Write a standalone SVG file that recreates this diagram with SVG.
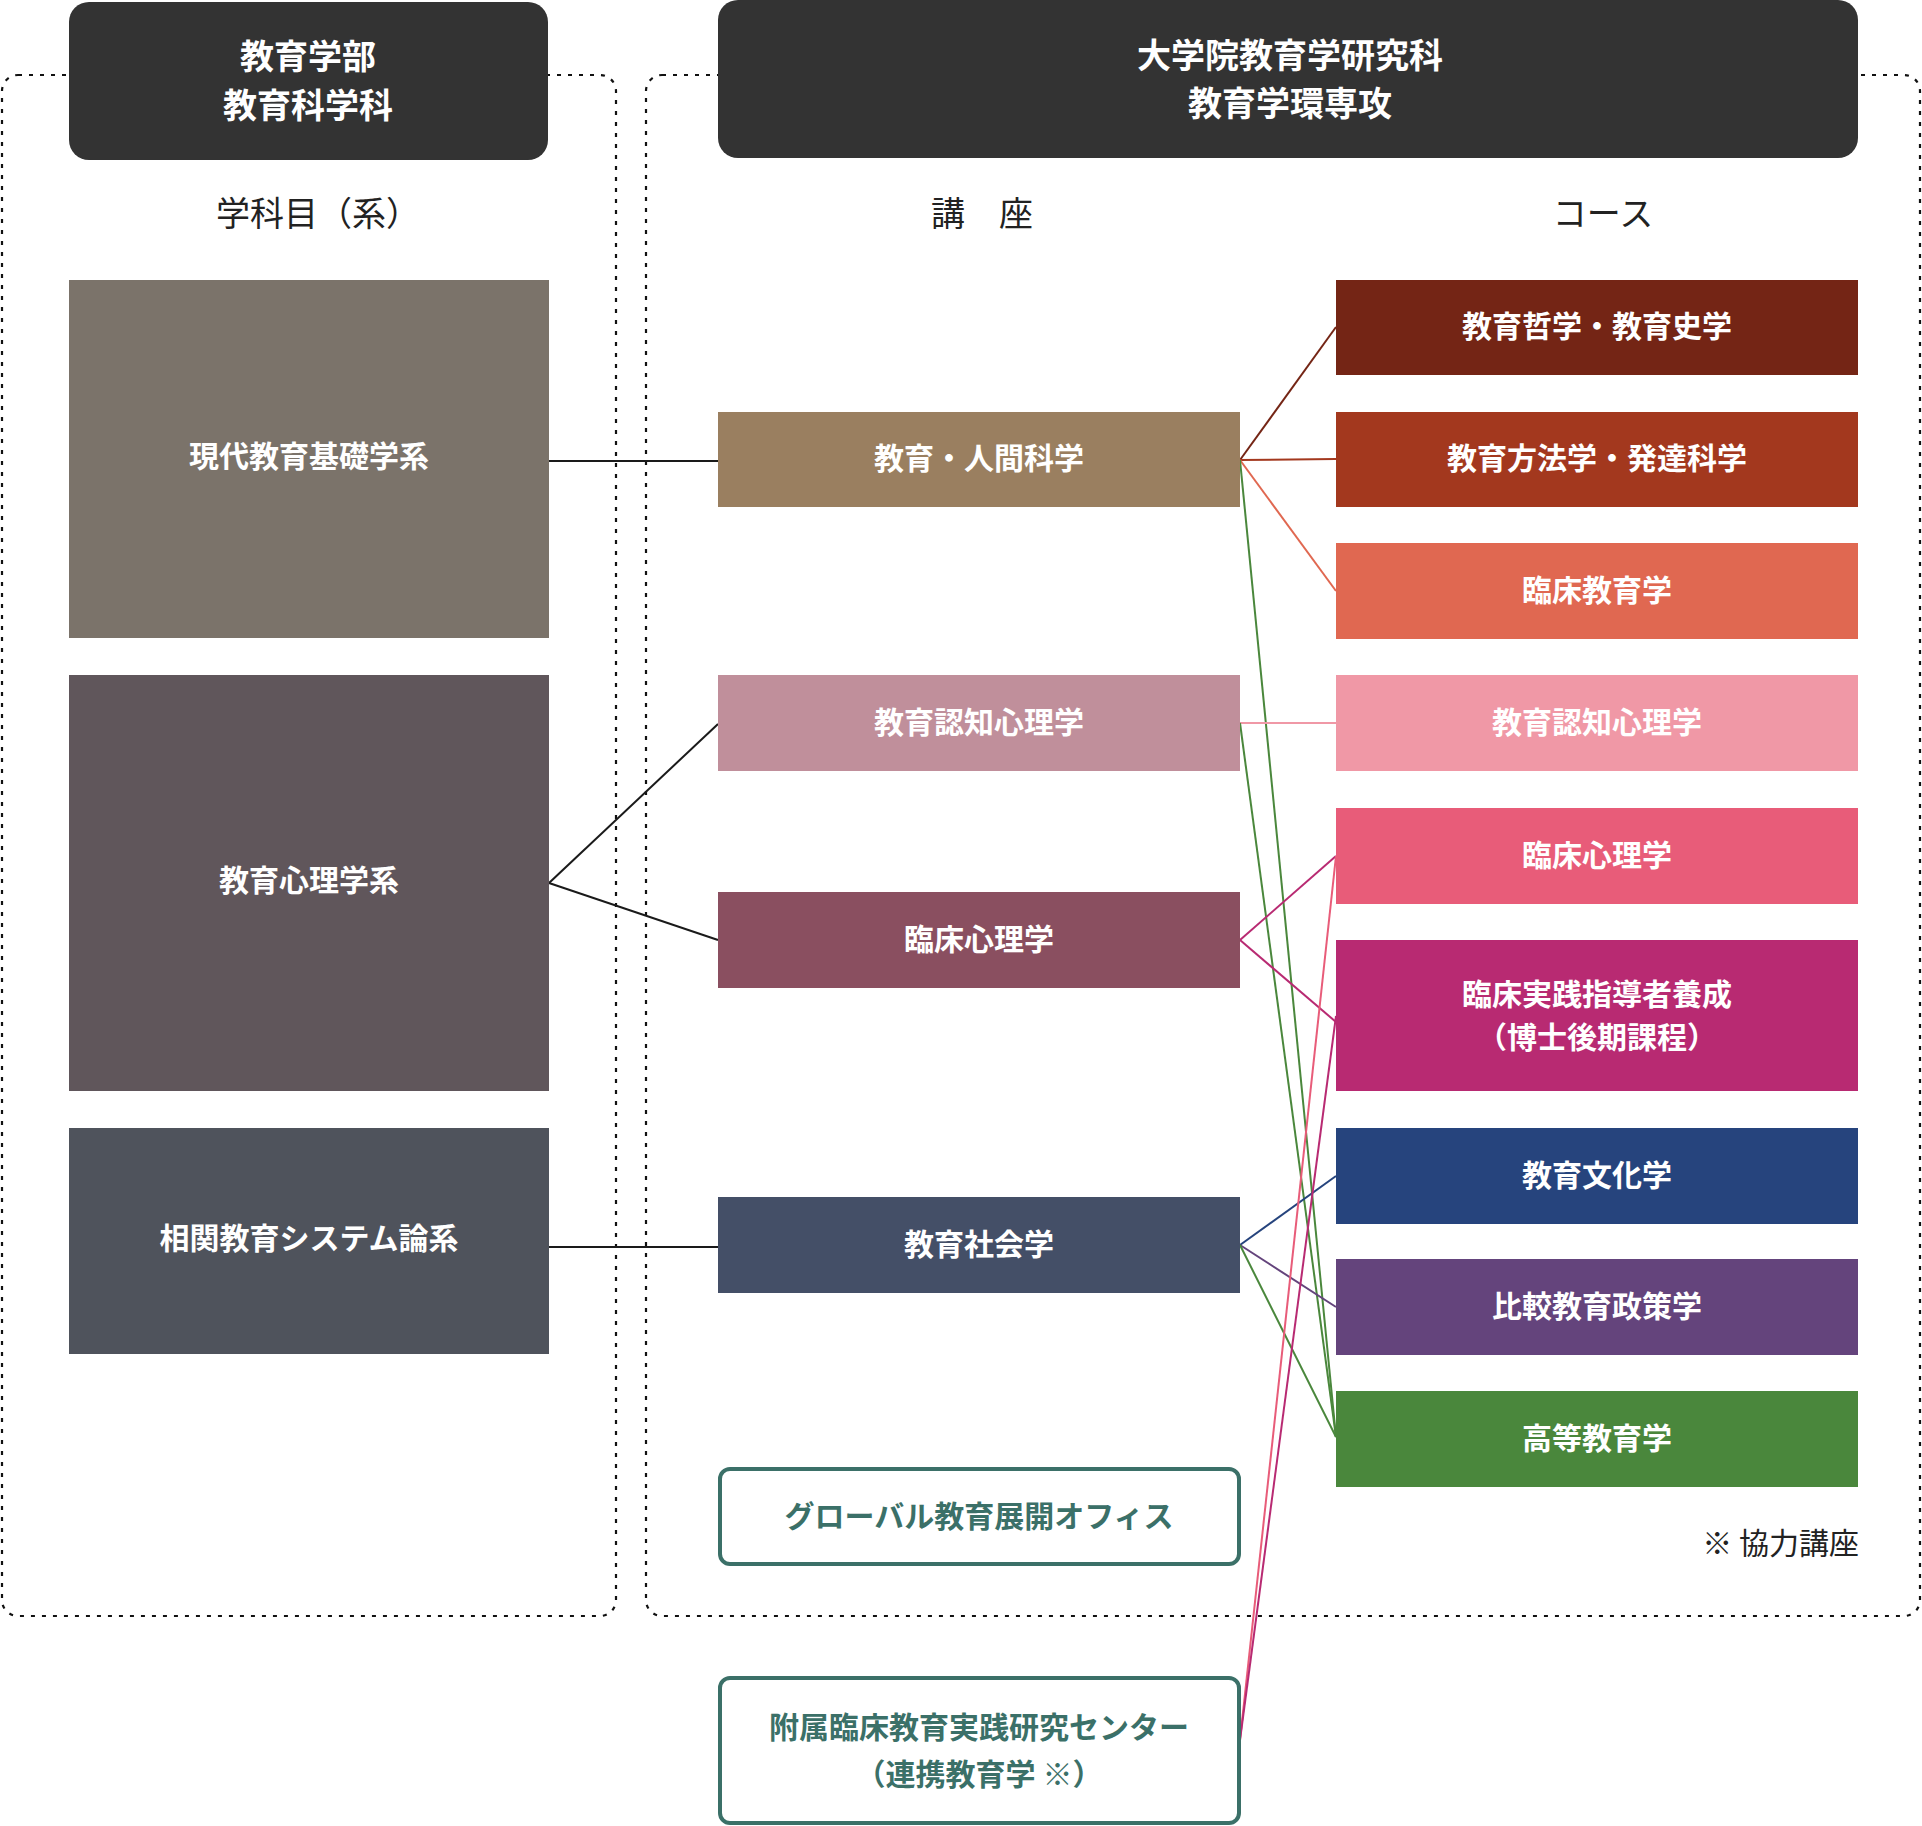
<svg xmlns="http://www.w3.org/2000/svg" width="1922" height="1826" viewBox="0 0 1922 1826">
<style>
text{font-family:"Noto Sans CJK JP","Noto Sans CJK SC",sans-serif;text-anchor:middle;dominant-baseline:central}
.hd{fill:#333333}
.ht{fill:#ffffff;font-size:34px;font-weight:bold}
.sub{fill:#222222;font-size:34px;font-weight:normal}
.nt{fill:#ffffff;font-size:30px;font-weight:bold}
.tt{fill:#3b7068;font-size:30px;font-weight:bold}
.ob{fill:#ffffff;stroke:#3b7068;stroke-width:4}
.box{fill:none;stroke:#111111;stroke-width:2.2;stroke-dasharray:4 7}
.c{fill:none;stroke-width:2}
</style>
<rect width="1922" height="1826" fill="#ffffff"/>
<g id="containers">
<rect class="box" x="2" y="75" width="614" height="1541" rx="16"/>
<rect class="box" x="646" y="75" width="1274" height="1541" rx="16"/>
</g>
<g id="connectors">
<line class="c" stroke="#1a1a1a" x1="549" y1="461" x2="718" y2="461"/>
<line class="c" stroke="#1a1a1a" x1="549" y1="883" x2="718" y2="724"/>
<line class="c" stroke="#1a1a1a" x1="549" y1="883" x2="718" y2="940"/>
<line class="c" stroke="#1a1a1a" x1="549" y1="1247" x2="718" y2="1247"/>
<line class="c" stroke="#742515" x1="1240" y1="460" x2="1336" y2="327"/>
<line class="c" stroke="#a3381e" x1="1240" y1="460" x2="1336" y2="459"/>
<line class="c" stroke="#e06851" x1="1240" y1="460" x2="1336" y2="591"/>
<line class="c" stroke="#4a873c" x1="1240" y1="460" x2="1336" y2="1437"/>
<line class="c" stroke="#f098a6" x1="1240" y1="723" x2="1336" y2="723"/>
<line class="c" stroke="#4a873c" x1="1240" y1="723" x2="1336" y2="1437"/>
<line class="c" stroke="#b82a72" x1="1240" y1="940" x2="1336" y2="856"/>
<line class="c" stroke="#b82a72" x1="1240" y1="940" x2="1336" y2="1022"/>
<line class="c" stroke="#26447d" x1="1240" y1="1245" x2="1336" y2="1176"/>
<line class="c" stroke="#64447c" x1="1240" y1="1245" x2="1336" y2="1307"/>
<line class="c" stroke="#4a873c" x1="1240" y1="1245" x2="1336" y2="1437"/>
<line class="c" stroke="#e85c79" x1="1240" y1="1740" x2="1336" y2="856"/>
<line class="c" stroke="#b82a72" x1="1240" y1="1740" x2="1336" y2="1016"/>
</g>
<g id="header-faculty">
<rect class="hd" x="69" y="2" width="479" height="158" rx="20"/>
<text class="ht" x="308" y="54">教育学部</text>
<text class="ht" x="308" y="103">教育科学科</text>
</g>
<g id="header-graduate">
<rect class="hd" x="718" y="0" width="1140" height="158" rx="20"/>
<text class="ht" x="1290" y="53">大学院教育学研究科</text>
<text class="ht" x="1290" y="101">教育学環専攻</text>
</g>
<g id="labels">
<text class="sub" x="318" y="211">学科目（系）</text>
<text class="sub" x="982" y="211">講　座</text>
<text class="sub" x="1603" y="211">コース</text>
<text style="fill:#222222;font-size:30px;text-anchor:end" x="1859" y="1541">※ 協力講座</text>
</g>
<g id="dept-gendai">
<rect x="69" y="280" width="480" height="358" fill="#7b736a"/>
<text class="nt" x="309" y="454">現代教育基礎学系</text>
</g>
<g id="dept-shinri">
<rect x="69" y="675" width="480" height="416" fill="#60565b"/>
<text class="nt" x="309" y="878">教育心理学系</text>
</g>
<g id="dept-soukan">
<rect x="69" y="1128" width="480" height="226" fill="#4f535c"/>
<text class="nt" x="309" y="1236">相関教育システム論系</text>
</g>
<g id="koza-ningen">
<rect x="718" y="412" width="522" height="95" fill="#9a7f60"/>
<text class="nt" x="979" y="456">教育・人間科学</text>
</g>
<g id="koza-ninchi">
<rect x="718" y="675" width="522" height="96" fill="#c08f9b"/>
<text class="nt" x="979" y="720">教育認知心理学</text>
</g>
<g id="koza-rinsho">
<rect x="718" y="892" width="522" height="96" fill="#8a4f60"/>
<text class="nt" x="979" y="937">臨床心理学</text>
</g>
<g id="koza-shakai">
<rect x="718" y="1197" width="522" height="96" fill="#444f67"/>
<text class="nt" x="979" y="1242">教育社会学</text>
</g>
<g id="global-office">
<rect class="ob" x="720" y="1469" width="519" height="95" rx="10"/>
<text class="tt" x="979" y="1514">グローバル教育展開オフィス</text>
</g>
<g id="center-rinsho">
<rect class="ob" x="720" y="1678" width="519" height="145" rx="10"/>
<text class="tt" x="979" y="1725">附属臨床教育実践研究センター</text>
<text class="tt" x="979" y="1772">（連携教育学 ※）</text>
</g>
<g id="course-tetsugaku">
<rect x="1336" y="280" width="522" height="95" fill="#742515"/>
<text class="nt" x="1597" y="324">教育哲学・教育史学</text>
</g>
<g id="course-houhou">
<rect x="1336" y="412" width="522" height="95" fill="#a3381e"/>
<text class="nt" x="1597" y="456">教育方法学・発達科学</text>
</g>
<g id="course-rinshokyoiku">
<rect x="1336" y="543" width="522" height="96" fill="#e06851"/>
<text class="nt" x="1597" y="588">臨床教育学</text>
</g>
<g id="course-ninchi">
<rect x="1336" y="675" width="522" height="96" fill="#f098a6"/>
<text class="nt" x="1597" y="720">教育認知心理学</text>
</g>
<g id="course-rinshoshinri">
<rect x="1336" y="808" width="522" height="96" fill="#e85c79"/>
<text class="nt" x="1597" y="853">臨床心理学</text>
</g>
<g id="course-jissen">
<rect x="1336" y="940" width="522" height="151" fill="#b82a72"/>
<text class="nt" x="1597" y="992">臨床実践指導者養成</text>
<text class="nt" x="1597" y="1035">（博士後期課程）</text>
</g>
<g id="course-bunka">
<rect x="1336" y="1128" width="522" height="96" fill="#26447d"/>
<text class="nt" x="1597" y="1173">教育文化学</text>
</g>
<g id="course-hikaku">
<rect x="1336" y="1259" width="522" height="96" fill="#64447c"/>
<text class="nt" x="1597" y="1304">比較教育政策学</text>
</g>
<g id="course-koutou">
<rect x="1336" y="1391" width="522" height="96" fill="#4a873c"/>
<text class="nt" x="1597" y="1436">高等教育学</text>
</g>
</svg>
